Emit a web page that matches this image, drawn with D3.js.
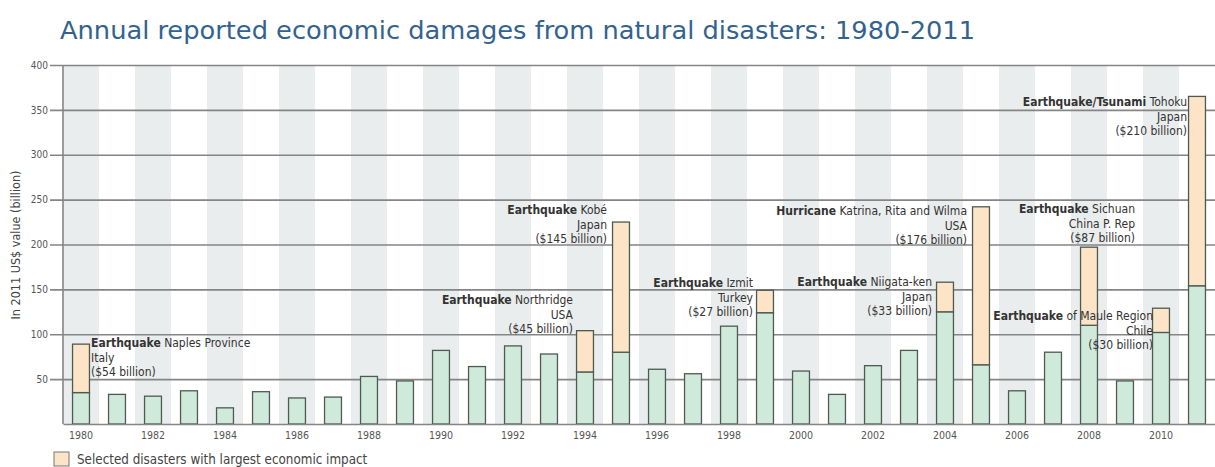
<!DOCTYPE html>
<html>

<head>
    <meta charset="UTF-8">
    <title>Economic damages</title>
    <style>
        body { margin: 0; background: #fff; }
        text { font-family: "Liberation Sans Narrow", "DejaVu Sans Condensed", "Liberation Sans", sans-serif; }
    </style>
</head>

<body>
    <script src="https://cdn.jsdelivr.net/npm/d3@7"></script>

    <svg id="svg" width="1215" height="467"></svg>

    <script>
        // years on the x axis
        const years = d3.range(1980, 2012);
        // damages from all other disasters (green part), billion 2011 US$
        const baseValues = [35, 33, 31, 37, 18, 36, 29, 30, 53, 48,
            82, 64, 87, 78, 58, 80, 61, 56, 109, 124,
            59, 33, 65, 82, 125, 66, 37, 80, 110, 48,
            102, 154];
        // selected disasters with largest impact (orange part)
        const selectedValues = [54, 0, 0, 0, 0, 0, 0, 0, 0, 0,
            0, 0, 0, 0, 46, 145, 0, 0, 0, 25,
            0, 0, 0, 0, 33, 176, 0, 0, 87, 0,
            27, 211];
        const yTicks = [50, 100, 150, 200, 250, 300, 350, 400];
        const xTickYears = years.filter(y => y % 2 == 0);

        // annotation texts: year, bold part, rest of first line, line 2, line 3
        const notes = [
            { year: 1980, bold: "Earthquake", rest: " Naples Province", l2: "Italy", l3: "($54 billion)" },
            { year: 1994, bold: "Earthquake", rest: " Northridge", l2: "USA", l3: "($45 billion)" },
            { year: 1995, bold: "Earthquake", rest: " Kobé", l2: "Japan", l3: "($145 billion)" },
            { year: 1999, bold: "Earthquake", rest: " Izmit", l2: "Turkey", l3: "($27 billion)" },
            { year: 2004, bold: "Earthquake", rest: " Niigata-ken", l2: "Japan", l3: "($33 billion)" },
            { year: 2005, bold: "Hurricane", rest: " Katrina, Rita and Wilma", l2: "USA", l3: "($176 billion)" },
            { year: 2008, bold: "Earthquake", rest: " Sichuan", l2: "China P. Rep", l3: "($87 billion)" },
            { year: 2010, bold: "Earthquake", rest: " of Maule Region", l2: "Chile", l3: "($30 billion)" },
            { year: 2011, bold: "Earthquake/Tsunami", rest: " Tohoku", l2: "Japan", l3: "($210 billion)" }
        ];
        // where each note sits: anchor x and first baseline y, in pixels
        const notePos = {
            1980: [91, 347, "start"], 1994: [573, 304, "end"], 1995: [607, 214, "end"],
            1999: [753, 287, "end"], 2004: [932, 286, "end"], 2005: [967, 215, "end"],
            2008: [1135, 213, "end"], 2010: [1153, 320, "end"], 2011: [1187, 106, "end"]
        };

        const svg = d3.select("#svg");
        const plotLeft = 63, plotRight = 1215, plotTop = 65, plotBottom = 424;

        const x = d3.scaleBand().domain(years).range([plotLeft, plotRight]).padding(0);
        const y = d3.scaleLinear().domain([0, 400]).range([plotBottom, plotTop]);
        const bw = x.bandwidth() * 0.47;

        // title
        svg.append("text")
            .attr("x", 60).attr("y", 39)
            .attr("font-size", 25)
            .attr("fill", "#34628f")
            .attr("textLength", 915)
            .attr("lengthAdjust", "spacingAndGlyphs")
            .text("Annual reported economic damages from natural disasters: 1980-2011");

        // alternating background bands for even years
        svg.append("g").selectAll("rect")
            .data(years.filter(d => d % 2 == 0))
            .enter().append("rect")
            .attr("x", d => x(d))
            .attr("y", plotTop)
            .attr("width", x.bandwidth())
            .attr("height", plotBottom - plotTop)
            .attr("fill", "#eaeded");

        // gridlines + y axis
        const yAxis = svg.append("g")
            .attr("transform", `translate(${plotLeft},0)`)
            .call(d3.axisLeft(y).tickValues(yTicks).tickSize(13).tickSizeOuter(0).tickPadding(3));
        yAxis.select(".domain").remove();
        yAxis.selectAll(".tick line").attr("stroke", "#858585").attr("stroke-width", 1.6)
            .attr("x2", plotRight - plotLeft).attr("x1", -13);
        yAxis.selectAll(".tick text").attr("font-size", 10).attr("fill", "#555")
            .attr("x", -15);

        svg.append("line")
            .attr("x1", plotLeft).attr("x2", plotLeft)
            .attr("y1", plotTop).attr("y2", plotBottom)
            .attr("stroke", "#858585").attr("stroke-width", 1.6);

        // bars
        const bars = svg.append("g");
        bars.selectAll("rect.base")
            .data(years)
            .enter().append("rect")
            .attr("class", "base")
            .attr("x", d => x(d) + (x.bandwidth() - bw) / 2)
            .attr("y", (d, i) => y(baseValues[i]))
            .attr("width", bw)
            .attr("height", (d, i) => y(0) - y(baseValues[i]))
            .attr("fill", "#cfeadb")
            .attr("stroke", "#4d5a52")
            .attr("stroke-width", 1.3);
        bars.selectAll("rect.sel")
            .data(years.filter((d, i) => selectedValues[i] > 0))
            .enter().append("rect")
            .attr("class", "sel")
            .attr("x", d => x(d) + (x.bandwidth() - bw) / 2)
            .attr("y", d => y(baseValues[d - 1980] + selectedValues[d - 1980]))
            .attr("width", bw)
            .attr("height", d => y(baseValues[d - 1980]) - y(baseValues[d - 1980] + selectedValues[d - 1980]))
            .attr("fill", "#fde4c6")
            .attr("stroke", "#4d5a52")
            .attr("stroke-width", 1.3);

        // x axis
        const xAxis = svg.append("g")
            .attr("transform", `translate(0,${plotBottom})`)
            .call(d3.axisBottom(x).tickValues(xTickYears).tickSize(0).tickPadding(8));
        xAxis.select(".domain").attr("stroke", "#858585").attr("stroke-width", 1.6);
        xAxis.selectAll(".tick text").attr("font-size", 10.5).attr("fill", "#555");

        // y label
        svg.append("text")
            .attr("transform", "translate(20,245) rotate(-90)")
            .attr("text-anchor", "middle")
            .attr("font-size", 12.5)
            .attr("fill", "#444")
            .text("In 2011 US$ value (billion)");

        // annotations
        const ann = svg.append("g").attr("font-size", 12).attr("fill", "#333");
        notes.forEach(n => {
            const p = notePos[n.year];
            const t = ann.append("text").attr("text-anchor", p[2]);
            t.append("tspan").attr("x", p[0]).attr("y", p[1]).attr("font-weight", "bold").text(n.bold);
            t.append("tspan").text(n.rest);
            ann.append("text").attr("text-anchor", p[2]).attr("x", p[0]).attr("y", p[1] + 14.5).text(n.l2);
            ann.append("text").attr("text-anchor", p[2]).attr("x", p[0]).attr("y", p[1] + 29).text(n.l3);
        });

        // legend
        svg.append("rect")
            .attr("x", 54).attr("y", 452)
            .attr("width", 15).attr("height", 14)
            .attr("fill", "#fde4c6").attr("stroke", "#777").attr("stroke-width", 1);
        svg.append("text")
            .attr("x", 77).attr("y", 464)
            .attr("font-size", 13.3).attr("fill", "#444")
            .text("Selected disasters with largest economic impact");
    </script>

</body>

</html>
